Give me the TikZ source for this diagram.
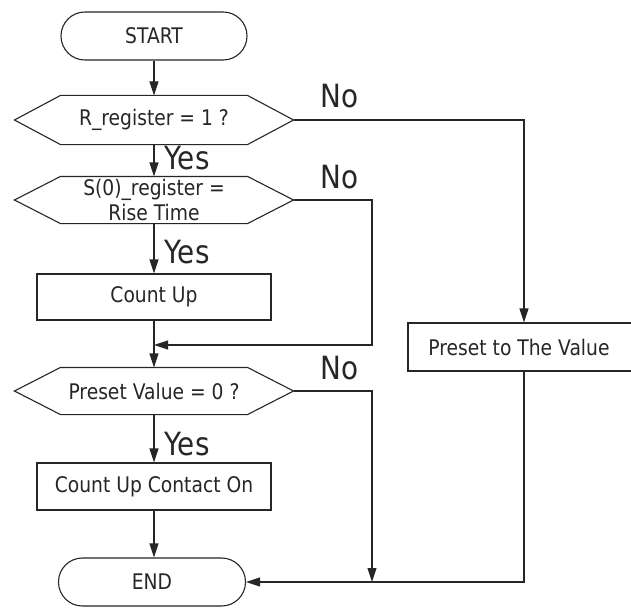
\documentclass[tikz,border=0pt]{standalone}
\usepackage{fontspec}
\setmainfont{DejaVu Sans}[FakeStretch=0.87]
\usetikzlibrary{arrows.meta,calc}

% decision outline drawn around a (borderless) node: #1 node name, #2 chamfer
\newcommand{\decisionoutline}[2]{%
  \draw (#1.west) -- ([xshift=#2]#1.north west) -- ([xshift=-#2]#1.north east)
    -- (#1.east) -- ([xshift=-#2]#1.south east) -- ([xshift=#2]#1.south west) -- cycle;}

\begin{document}
\begin{tikzpicture}[x=1pt,y=-1pt,
  line width=1.1pt, draw=black!85, text=black!85,
  flow/.style={-{Triangle[length=14pt,width=9pt]}},
  boxfont/.style={font=\fontsize{21.5}{25}\selectfont},
  terminal/.style={draw, rectangle, rounded corners=23.9pt, minimum width=186pt,
    minimum height=48pt, inner sep=0pt, boxfont},
  process/.style={draw, rectangle, minimum width=234pt, minimum height=46pt,
    inner sep=0pt, boxfont},
  decision/.style={rectangle, minimum width=278pt, minimum height=48pt,
    inner sep=0pt, boxfont, align=center},
  answer/.style={anchor=base west, inner sep=0pt, font=\fontsize{32}{34}\selectfont}
]
\fill[white] (0,0) rectangle (631,607);
\useasboundingbox (0,0) rectangle (631,607);

% main column
\node[terminal] (start) at (154,36) {START};
\node[decision] (d1) at (154,120) {R\_register = 1 ?};
\node[decision, minimum height=46pt] (d2) at (154,200) {S(0)\_register =\\Rise Time};
\node[process] (cu) at (154,297) {Count Up};
\node[decision, minimum height=46pt] (d3) at (154,391) {Preset Value = 0 ?};
\node[process, minimum height=47pt] (cuco) at (154,486.5) {Count Up Contact On};
\node[terminal, minimum width=187pt] (end) at (152,582) {END};

% right column
\node[process, minimum width=232pt, minimum height=48pt] (pre) at (524,347) {\hspace*{-10pt}Preset to The Value};

\decisionoutline{d1}{46pt}
\decisionoutline{d2}{46pt}
\decisionoutline{d3}{46pt}

% branch labels
\node[answer] (y1) at (164,169) {Yes};
\node[answer] (y2) at (164,263) {Yes};
\node[answer] (y3) at (164,455) {Yes};
\node[answer] (n1) at (320,107) {No};
\node[answer] (n2) at (320,188) {No};
\node[answer] (n3) at (320,379) {No};

% corner points of the side branches
\coordinate (m2) at (372,345);
\coordinate (m3) at (372,582);

% main flow
\draw[flow] (start) -- (d1);
\draw[flow] (d1) -- (d2);
\draw[flow] (d2) -- (cu);
\draw[flow] (cu) -- (d3);
\draw[flow] (d3) -- (cuco);
\draw[flow] (cuco.south) -- (cuco.south |- end.north);

% "No" branches
\draw[flow] (d1.east) -| (pre.north);
\draw[flow] (d2.east) -| (m2) -- (m2 -| cu.south);
\draw[flow] (d3.east) -| (m3);
\draw[flow] (pre.south) |- (end.east);
\end{tikzpicture}
\end{document}
